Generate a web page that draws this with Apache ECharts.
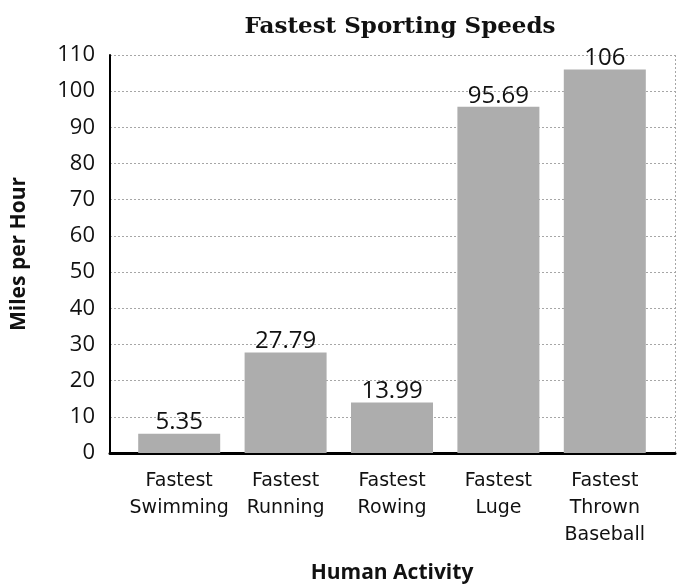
<!DOCTYPE html>
<html>
<head>
<meta charset="utf-8">
<script src="https://cdn.jsdelivr.net/npm/echarts@6/dist/echarts.min.js"></script>
<style>
  html, body { margin: 0; padding: 0; background: #fff; }
</style>
</head>
<body>
<!-- chart fills the whole 680x584 window -->
<div id="speedChart" style="width: 680px; height: 584px"></div>
<script>
// categories and values
const activities = ['Fastest\nSwimming', 'Fastest\nRunning', 'Fastest\nRowing', 'Fastest\nLuge', 'Fastest\nThrown\nBaseball']
const speeds = [5.35, 27.79, 13.99, 95.69, 106]
const valueLabels = ['5.35', '27.79', '13.99', '95.69', '106']

const chart = echarts.init(document.getElementById('speedChart'), null, { renderer: 'canvas' })

const sans = '"Open Sans", "Noto Sans", sans-serif'

const option = {
  animation: false,
  title: {
    text: 'Fastest Sporting Speeds',
    left: 395,
    textAlign: 'center',
    top: 11,
    textStyle: { fontFamily: '"DejaVu Serif", serif', fontWeight: 'bold', fontSize: 23, color: '#111' }
  },
  // grid 0: frame, gridlines and y labels; grid 1: bars (narrower, like the original)
  grid: [
    { left: 110, right: 5, top: 55, bottom: 131, outerBoundsMode: 'none' },
    { left: 126, right: 22, top: 55, bottom: 131, outerBoundsMode: 'none' }
  ],
  xAxis: [
    {
      gridIndex: 0,
      type: 'value',
      min: 0,
      max: 1,
      interval: 1,
      axisLabel: { show: false },
      axisTick: { show: false },
      axisLine: { show: true, lineStyle: { color: '#000', width: 3 } },
      splitLine: { show: true, lineStyle: { color: '#a6a6a6', type: [2, 2], width: 1 } }
    },
    {
      gridIndex: 1,
      type: 'category',
      data: activities,
      axisLine: { show: false },
      axisTick: { show: false },
      axisLabel: { interval: 0, margin: 15, fontFamily: '"DejaVu Sans", sans-serif', fontSize: 19, lineHeight: 27, color: '#111' },
      name: 'Human Activity',
      nameLocation: 'middle',
      nameGap: 110,
      nameTextStyle: { fontFamily: sans, fontWeight: 'bold', fontSize: 21, color: '#111' }
    }
  ],
  yAxis: [
    {
      gridIndex: 0,
      type: 'value',
      min: 0,
      max: 110,
      interval: 10,
      axisLine: { show: true, lineStyle: { color: '#000', width: 2 } },
      axisTick: { show: false },
      axisLabel: { margin: 15, fontFamily: sans, fontSize: 22, color: '#111' },
      splitLine: { show: true, lineStyle: { color: '#a6a6a6', type: [2, 2], width: 1 } },
      name: 'Miles per Hour',
      nameLocation: 'middle',
      nameGap: 80,
      nameTextStyle: { fontFamily: sans, fontWeight: 'bold', fontSize: 21, color: '#111' }
    },
    {
      gridIndex: 1,
      type: 'value',
      min: 0,
      max: 110,
      show: false
    }
  ],
  series: [
    {
      type: 'bar',
      xAxisIndex: 1,
      yAxisIndex: 1,
      data: speeds,
      barWidth: 82,
      itemStyle: { color: '#adadad' },
      label: {
        show: true,
        position: 'top',
        distance: -1,
        fontFamily: sans,
        fontSize: 24,
        color: '#111',
        formatter: p => valueLabels[p.dataIndex]
      }
    }
  ]
}

chart.setOption(option)
</script>
</body>
</html>
